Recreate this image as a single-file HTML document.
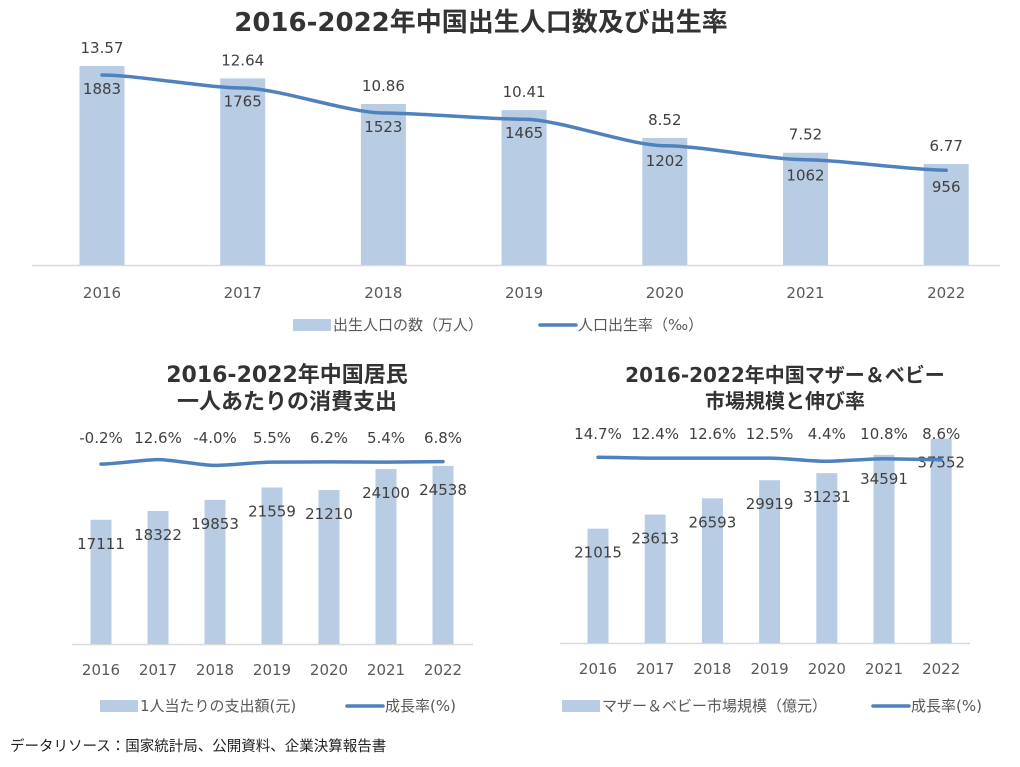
<!DOCTYPE html>
<html><head><meta charset="utf-8">
<style>
html,body{margin:0;padding:0;background:#fff;}
svg{display:block;font-family:"DejaVu Sans","Noto Sans CJK JP",sans-serif;}
</style></head>
<body>
<svg id="c" width="1020" height="767" viewBox="0 0 1020 767" xmlns="http://www.w3.org/2000/svg">
<text x="481" y="31" text-anchor="middle" font-size="26" font-weight="bold" fill="#333">2016-2022年中国出生人口数及び出生率</text>
<text x="287" y="382" text-anchor="middle" font-size="22" font-weight="bold" fill="#333">2016-2022年中国居民</text>
<text x="287" y="409" text-anchor="middle" font-size="22" font-weight="bold" fill="#333">一人あたりの消費支出</text>
<text x="785" y="382" text-anchor="middle" font-size="20" font-weight="bold" fill="#333">2016-2022年中国マザー＆ベビー</text>
<text x="785" y="408" text-anchor="middle" font-size="20" font-weight="bold" fill="#333">市場規模と伸び率</text>
<text x="10" y="751" font-size="14.5" fill="#222">データリソース：国家統計局、公開資料、企業決算報告書</text>
</svg>
<script>
const years = ["2016","2017","2018","2019","2020","2021","2022"];
const birthCounts = [1883,1765,1523,1465,1202,1062,956];
const birthRates = [13.57,12.64,10.86,10.41,8.52,7.52,6.77];
const birthRateLabels = ["13.57","12.64","10.86","10.41","8.52","7.52","6.77"];
const spendValues = [17111,18322,19853,21559,21210,24100,24538];
const spendGrowth = [-0.2,12.6,-4.0,5.5,6.2,5.4,6.8];
const spendGrowthLabels = ["-0.2%","12.6%","-4.0%","5.5%","6.2%","5.4%","6.8%"];
const marketValues = [21015,23613,26593,29919,31231,34591,37552];
const marketGrowth = [14.7,12.4,12.6,12.5,4.4,10.8,8.6];
const marketGrowthLabels = ["14.7%","12.4%","12.6%","12.5%","4.4%","10.8%","8.6%"];

const NS="http://www.w3.org/2000/svg";
const svg=document.getElementById('c');
function mk(tag,attrs,parent){const e=document.createElementNS(NS,tag);for(const k in attrs)e.setAttribute(k,attrs[k]);(parent||svg).appendChild(e);return e;}

function drawChart(o){
  const g=mk('g',{});
  
  
  const xs=i=>o.x0+i*o.step;
  const yb=v=>o.base-v/o.barMax*o.barH;
  const yl=v=>o.lineZero-v*o.lineScale;
  const ax=mk('line',{x1:o.axL,x2:o.axR,y1:o.base+0.5,y2:o.base+0.5,stroke:'#d9d9d9','stroke-width':1.5},g);
  
  
  o.bars.forEach((v,i)=>{
    const r=mk('rect',{x:xs(i)-o.bw/2,y:yb(v),width:o.bw,height:o.base-yb(v),fill:'#b8cce4'},g);
    
    
    const t=mk('text',{x:xs(i),y:yb(v)+o.barLblOff,'text-anchor':'middle','font-size':o.fs,fill:'#404040'},g);
    t.textContent=String(v);
    
    
    const xl=mk('text',{x:xs(i),y:o.xLblY,'text-anchor':'middle','font-size':o.xfs,fill:'#595959'},g);
    xl.textContent=years[i];
    
    
  });
  const pts=o.line.map((v,i)=>[xs(i),yl(v)]);
  let d='M'+pts[0][0]+','+pts[0][1];
  for(let i=1;i<pts.length;i++){
    const p0=pts[i-1],p1=pts[i],cx=(p1[0]-p0[0])*0.25;
    d+=' C'+(p0[0]+cx)+','+p0[1]+' '+(p1[0]-cx)+','+p1[1]+' '+p1[0]+','+p1[1];
  }
  const path=mk('path',{d:d,fill:'none',stroke:'#4f81bd','stroke-width':3.5,'stroke-linecap':'round'},g);
  
  
  o.lineLabels.forEach((s,i)=>{
    const y=o.lineLblFixed!=null?o.lineLblFixed:yb(o.bars[i])-o.lineLblAbove;
    const t=mk('text',{x:xs(i),y:y,'text-anchor':'middle','font-size':o.fs,fill:'#404040'},g);
    t.textContent=s;
    
    
  });
  const sw=mk('rect',{x:o.lg[0],y:o.lgY-6,width:38,height:12,fill:'#b8cce4'},g);
  
  
  const lt=mk('text',{x:o.lg[0]+40,y:o.lgY+5,'font-size':15,fill:'#595959'},g);
  lt.textContent=o.lgText[0];
  
  
  const ls=mk('line',{x1:o.lg[1],x2:o.lg[1]+36,y1:o.lgY,y2:o.lgY,stroke:'#4f81bd','stroke-width':3.5,'stroke-linecap':'round'},g);
  
  
  const lt2=mk('text',{x:o.lg[1]+38,y:o.lgY+5,'font-size':15,fill:'#595959'},g);
  lt2.textContent=o.lgText[1];
  
  
}

drawChart({name:'birth-chart',x0:102,step:140.7,bw:45,base:265,barMax:2000,barH:211.4,
  lineZero:265,lineScale:14,axL:32,axR:1000,bars:birthCounts,line:birthRates,lineLabels:birthRateLabels,
  barLblOff:28,lineLblAbove:13,lineLblFixed:null,fs:15,xfs:15,xLblY:298,
  lg:[293,540],lgY:325,lgText:["出生人口の数（万人）","人口出生率（‰）"]});

drawChart({name:'spending-chart',x0:101,step:57,bw:21,base:644,barMax:27000,barH:196,
  lineZero:464,lineScale:0.35,axL:72,axR:473,bars:spendValues,line:spendGrowth,lineLabels:spendGrowthLabels,
  barLblOff:29,lineLblAbove:0,lineLblFixed:443,fs:15,xfs:15,xLblY:675,
  lg:[100,347],lgY:706,lgText:["1人当たりの支出額(元)","成長率(%)"]});

drawChart({name:'mother-baby-market-chart',x0:598,step:57.2,bw:21,base:643,barMax:40000,barH:217.6,
  lineZero:463,lineScale:0.39,axL:560,axR:970,bars:marketValues,line:marketGrowth,lineLabels:marketGrowthLabels,
  barLblOff:29,lineLblAbove:0,lineLblFixed:439,fs:15,xfs:15,xLblY:674,
  lg:[562,873],lgY:706,lgText:["マザー＆ベビー市場規模（億元）","成長率(%)"]});
</script>
</body></html>
